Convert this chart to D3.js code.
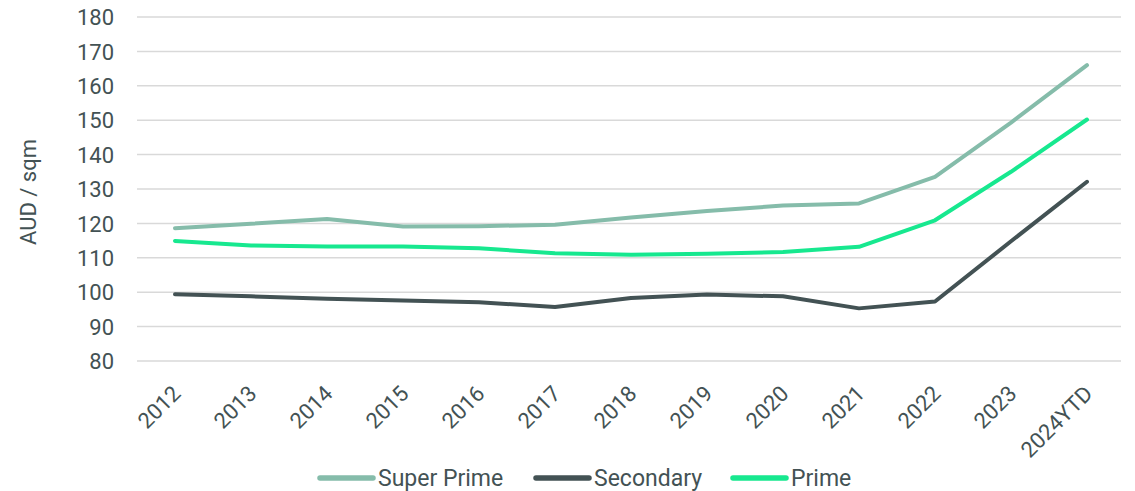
<!DOCTYPE html>
<html>
<head>
<meta charset="utf-8">
<script src="https://cdn.jsdelivr.net/npm/d3@7"></script>
<style>
  html, body { margin: 0; padding: 0; background: #fff; }
  svg text { font-family: Roboto, "Noto Sans", sans-serif; fill: #435254; }
</style>
</head>
<body>
<svg id="chart" width="1135" height="491"></svg>
<script>
// Average rents by grade, AUD per square metre
const years = ["2012","2013","2014","2015","2016","2017","2018","2019","2020","2021","2022","2023","2024YTD"];
const superPrime = [118.6, 119.9, 121.3, 119.1, 119.2, 119.6, 121.7, 123.6, 125.2, 125.8, 133.5, 149.3, 166.0];
const secondary  = [99.4, 98.8, 98.1, 97.6, 97.1, 95.7, 98.3, 99.3, 98.8, 95.3, 97.3, 114.8, 132.1];
const prime      = [114.9, 113.6, 113.3, 113.3, 112.8, 111.3, 110.9, 111.2, 111.7, 113.2, 120.9, 135.0, 150.2];
const yTicks = [80, 90, 100, 110, 120, 130, 140, 150, 160, 170, 180];

const seriesList = [
  { name: "Super Prime", values: superPrime, color: "#85bcaa" },
  { name: "Secondary",   values: secondary,  color: "#435254" },
  { name: "Prime",       values: prime,      color: "#17e88f" }
];

const svg = d3.select("#chart");
const plot = { left: 137, right: 1125, top: 17, bottom: 361 };

const x = d3.scaleBand().domain(years).range([plot.left, plot.right]);
const y = d3.scaleLinear().domain([80, 180]).range([plot.bottom, plot.top]);
const cx = d => x(d) + x.bandwidth() / 2;

// Horizontal gridlines
svg.append("g")
  .selectAll("line")
  .data(yTicks)
  .join("line")
  .attr("x1", plot.left).attr("x2", plot.right - 4)
  .attr("y1", d => y(d)).attr("y2", d => y(d))
  .attr("stroke", "#d9d9d9").attr("stroke-width", 1.5);

// Y axis labels
const yAxis = svg.append("g")
  .attr("transform", `translate(${plot.left - 23},0)`)
  .call(d3.axisLeft(y).tickValues(yTicks).tickSize(0).tickPadding(0));
yAxis.select(".domain").remove();
yAxis.selectAll("text")
  .attr("font-size", 22)
  .attr("dy", "0.35em");

// Y axis title
svg.append("text")
  .attr("transform", `translate(36,192) rotate(-90)`)
  .attr("text-anchor", "middle")
  .attr("font-size", 22)
  .text("AUD / sqm");

// X axis labels, rotated
const xAxis = svg.append("g")
  .attr("transform", `translate(0,${plot.bottom})`)
  .call(d3.axisBottom(x).tickSize(0).tickPadding(0));
xAxis.select(".domain").remove();
xAxis.selectAll("text")
  .attr("font-size", 22)
  .attr("text-anchor", "end")
  .attr("dy", 0)
  .attr("y", 0)
  .attr("transform", "translate(7,34) rotate(-45)");

// Series lines
const line = d3.line()
  .x((d, i) => cx(years[i]))
  .y(d => y(d));

svg.append("g")
  .selectAll("path")
  .data(seriesList)
  .join("path")
  .attr("d", s => line(s.values))
  .attr("fill", "none")
  .attr("stroke", s => s.color)
  .attr("stroke-width", 4)
  .attr("stroke-linecap", "round")
  .attr("stroke-linejoin", "round");

// Legend
const legendX = [320, 536, 733];
const legend = svg.append("g")
  .selectAll("g")
  .data(seriesList)
  .join("g")
  .attr("transform", (s, i) => `translate(${legendX[i]},478)`);
legend.append("line")
  .attr("x1", 0).attr("x2", 53)
  .attr("stroke", s => s.color)
  .attr("stroke-width", 5.5)
  .attr("stroke-linecap", "round");
legend.append("text")
  .attr("x", 58)
  .attr("dy", "0.36em")
  .attr("font-size", 23)
  .text(s => s.name);
</script>
</body>
</html>
